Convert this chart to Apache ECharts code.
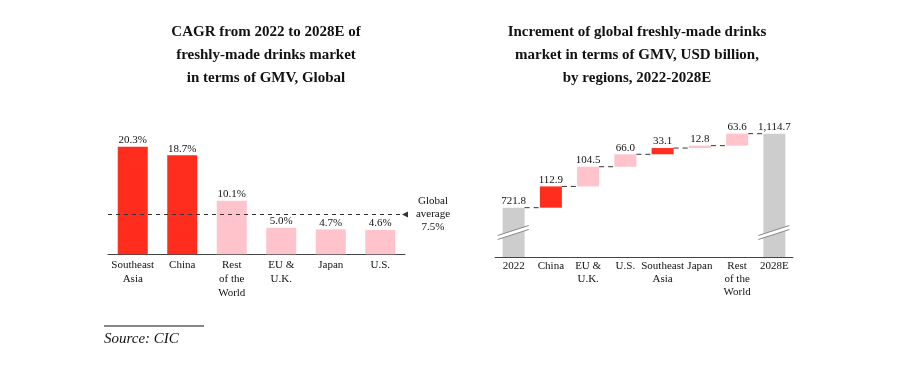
<!DOCTYPE html>
<html>
<head>
<meta charset="utf-8">
<script src="https://cdn.jsdelivr.net/npm/echarts@6/dist/echarts.min.js"></script>
<style>
html,body{margin:0;padding:0;background:#fff;}
#c{width:908px;height:373px;}
</style>
</head>
<body>
<div id="c"></div>
<script>
// ---- Data: left chart (CAGR) ----
var cagrCategories = ['Southeast\nAsia', 'China', 'Rest\nof the\nWorld', 'EU &\nU.K.', 'Japan', 'U.S.'];
var cagrValues = [20.3, 18.7, 10.1, 5.0, 4.7, 4.6];
var globalAverage = 7.5;

// ---- Data: right chart (waterfall, USD billion) ----
var wfCategories = ['2022', 'China', 'EU &\nU.K.', 'U.S.', 'Southeast\nAsia', 'Japan', 'Rest\nof the\nWorld', '2028E'];
var wfStart = 721.8;
var wfIncrements = [112.9, 104.5, 66.0, 33.1, 12.8, 63.6];
var wfEnd = 1114.7;
var wfLabels = ['721.8', '112.9', '104.5', '66.0', '33.1', '12.8', '63.6', '1,114.7'];

// ---- Styles ----
var FONT = 'Liberation Serif, Times New Roman, serif';
var RED = '#FF2D1E', PINK = '#FFC3CC', GRAY = '#CDCDCD';
var cagrColors = [RED, RED, PINK, PINK, PINK, PINK];
var wfColors = [GRAY, RED, PINK, PINK, RED, PINK, PINK, GRAY];
var WF_BAR_W = 22;

// build waterfall series from data
var wfBase = [0], wfVisible = [wfStart], wfLevels = [];
var cum = wfStart;
wfLevels.push([0, cum]);
wfIncrements.forEach(function (inc, k) {
  wfBase.push(Math.round(cum * 10) / 10);
  wfVisible.push(inc);
  cum += inc;
  wfLevels.push([k + 1, Math.round(cum * 10) / 10]);
});
wfBase.push(0);
wfVisible.push(wfEnd);
var breakValue = 590;
var breakPoints = [[0, breakValue], [wfCategories.length - 1, breakValue]];

var chart = echarts.init(document.getElementById('c'));
var axisLabelStyle = {interval: 0, fontFamily: FONT, fontSize: 11, color: '#111', lineHeight: 14, margin: 4};

chart.setOption({
  animation: false,
  backgroundColor: '#fff',
  title: [
    {text: 'CAGR from 2022 to 2028E of\nfreshly-made drinks market\nin terms of GMV, Global', left: 266, top: 21, textAlign: 'center', padding: 0,
     textStyle: {fontFamily: FONT, fontSize: 15, fontWeight: 'bold', lineHeight: 23, color: '#111'}},
    {text: 'Increment of global freshly-made drinks\nmarket in terms of GMV, USD billion,\nby regions, 2022-2028E', left: 637, top: 21, textAlign: 'center', padding: 0,
     textStyle: {fontFamily: FONT, fontSize: 15, fontWeight: 'bold', lineHeight: 23, color: '#111'}},
    {text: 'Source: CIC', left: 104, top: 331, padding: 0,
     textStyle: {fontFamily: FONT, fontSize: 15, fontStyle: 'italic', fontWeight: 'normal', lineHeight: 17, color: '#111'}}
  ],
  graphic: [
    {type: 'line', shape: {x1: 104, y1: 326, x2: 204, y2: 326}, style: {stroke: '#111', lineWidth: 1}}
  ],
  grid: [
    {left: 108, top: 121.8, width: 297, height: 132.5},
    {left: 495, top: 117.6, width: 298, height: 139.4}
  ],
  xAxis: [
    {type: 'category', gridIndex: 0, data: cagrCategories, axisTick: {show: false},
     axisLine: {lineStyle: {color: '#444', width: 1}}, axisLabel: axisLabelStyle},
    {type: 'category', gridIndex: 1, data: wfCategories, axisTick: {show: false},
     axisLine: {lineStyle: {color: '#444', width: 1}}, axisLabel: Object.assign({}, axisLabelStyle, {lineHeight: 13, margin: 3})}
  ],
  yAxis: [
    {type: 'value', gridIndex: 0, min: 0, max: 25, show: false, splitLine: {show: false}},
    {type: 'value', gridIndex: 1, min: 460, max: 1200, show: false, splitLine: {show: false}}
  ],
  series: [
    {
      type: 'bar', xAxisIndex: 0, yAxisIndex: 0, barWidth: 30,
      data: cagrValues,
      itemStyle: {color: function (p) { return cagrColors[p.dataIndex]; }},
      label: {show: true, position: 'top', distance: 1, fontFamily: FONT, fontSize: 11, color: '#111',
              formatter: function (p) { return p.value.toFixed(1) + '%'; }},
      markLine: {
        silent: true, symbol: ['none', 'triangle'], symbolSize: [6, 6], symbolRotate: 90,
        data: [{yAxis: globalAverage}],
        lineStyle: {type: [4, 4], color: '#333', width: 1},
        itemStyle: {color: '#333'},
        label: {show: true, position: 'end', align: 'center', distance: 28, fontFamily: FONT, fontSize: 11,
                lineHeight: 13, color: '#111',
                formatter: 'Global\naverage\n' + globalAverage.toFixed(1) + '%'}
      }
    },
    {
      type: 'bar', xAxisIndex: 1, yAxisIndex: 1, stack: 'wf', barWidth: WF_BAR_W,
      data: wfBase, itemStyle: {color: 'transparent'}, silent: true
    },
    {
      type: 'bar', xAxisIndex: 1, yAxisIndex: 1, stack: 'wf', barWidth: WF_BAR_W,
      data: wfVisible,
      itemStyle: {color: function (p) { return wfColors[p.dataIndex]; }},
      label: {show: true, position: 'top', distance: 1, fontFamily: FONT, fontSize: 11, color: '#111',
              formatter: function (p) { return wfLabels[p.dataIndex]; }}
    },
    {
      type: 'custom', xAxisIndex: 1, yAxisIndex: 1, silent: true, z: 5,
      data: wfLevels.slice(0, wfLevels.length),
      renderItem: function (params, api) {
        var i = api.value(0), v = api.value(1);
        if (i >= wfCategories.length - 1) return null;
        var a = api.coord([i, v]), b = api.coord([i + 1, v]);
        var half = WF_BAR_W / 2;
        return {type: 'line', shape: {x1: a[0] + half, y1: a[1], x2: b[0] - half, y2: b[1]},
                style: {stroke: '#333', lineWidth: 1, lineDash: [5, 4]}};
      }
    },
    {
      type: 'custom', xAxisIndex: 1, yAxisIndex: 1, silent: true, z: 6,
      data: breakPoints,
      renderItem: function (params, api) {
        var c = api.coord([api.value(0), api.value(1)]);
        var x = c[0], y = c[1];
        var l = x - 16, r = x + 15;
        return {type: 'group', children: [
          {type: 'polygon', shape: {points: [[l, y + 3], [r, y - 7], [r, y - 3], [l, y + 7]]}, style: {fill: '#fff'}},
          {type: 'line', shape: {x1: l, y1: y + 3, x2: r, y2: y - 7}, style: {stroke: '#888', lineWidth: 1}},
          {type: 'line', shape: {x1: l, y1: y + 7, x2: r, y2: y - 3}, style: {stroke: '#888', lineWidth: 1}}
        ]};
      }
    }
  ]
});
</script>
</body>
</html>
